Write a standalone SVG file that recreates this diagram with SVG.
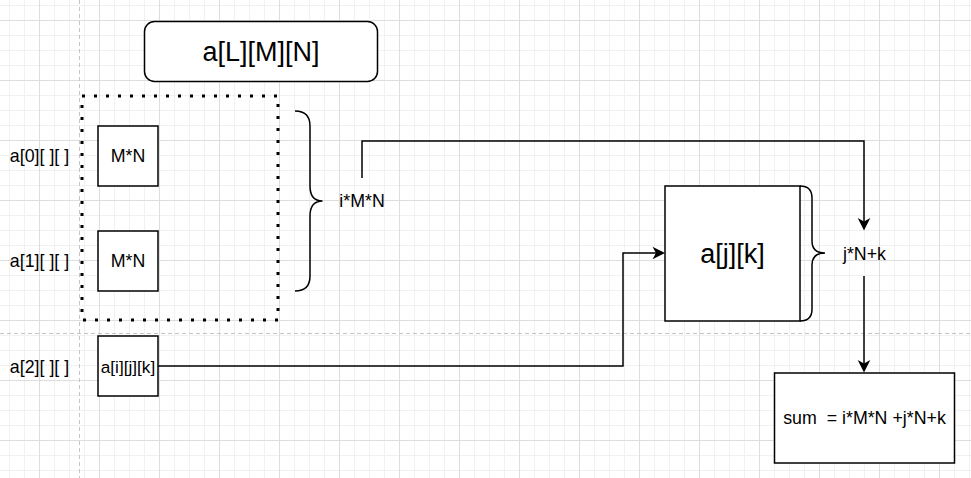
<svg xmlns="http://www.w3.org/2000/svg" width="971" height="478" viewBox="0 0 971 478">
  <style>
    .box { fill: #ffffff; stroke: #000000; stroke-width: 1.5; }
    .line { fill: none; stroke: #000000; stroke-width: 1.5; }
    .t { font-family: "Liberation Sans", Arial, sans-serif; font-size: 17.8px; fill: #000000; }
    .big { font-family: "Liberation Sans", Arial, sans-serif; font-size: 27px; fill: #000000; }
    .mid { text-anchor: middle; }
  </style>
  <defs>
    <pattern id="grid" width="60" height="60" patternUnits="userSpaceOnUse" x="39" y="20">
      <path d="M15.5,0 V60 M30.5,0 V60 M45.5,0 V60 M0,15.5 H60 M0,30.5 H60 M0,45.5 H60" stroke="#f1f1f1" stroke-width="1" fill="none"/>
      <path d="M0.5,0 V60 M0,0.5 H60" stroke="#dddddd" stroke-width="1" fill="none"/>
    </pattern>
    <marker id="arrow" markerUnits="userSpaceOnUse" markerWidth="14" markerHeight="14" viewBox="0 0 14 14" refX="5" refY="7" orient="auto">
      <path d="M0.5,0.7 L13,7 L0.5,13.3 L4,7 Z" fill="#000000"/>
    </marker>
  </defs>

  <rect width="971" height="478" fill="#ffffff"/>
  <rect width="971" height="478" fill="url(#grid)"/>
  <path d="M79.5,0 V478" stroke="#c4c4c4" stroke-width="1" stroke-dasharray="4 3" fill="none"/>
  <path d="M0,333.5 H971" stroke="#c4c4c4" stroke-width="1" stroke-dasharray="4 3" fill="none"/>

  <g id="title">
    <rect class="box" x="144.5" y="21.5" width="233" height="60" rx="10" ry="10"/>
    <text class="big mid" x="261" y="60.5">a[L][M][N]</text>
  </g>

  <g id="group-frame">
    <rect x="82" y="96" width="196" height="224" fill="none" stroke="#000000" stroke-width="3" stroke-dasharray="3 9"/>
  </g>

  <g id="label-a0"><text class="t mid" x="39.5" y="162">a[0][ ][ ]</text></g>
  <g id="label-a1"><text class="t mid" x="39.5" y="267">a[1][ ][ ]</text></g>
  <g id="label-a2"><text class="t mid" x="39.5" y="372.5">a[2][ ][ ]</text></g>

  <g id="block0">
    <rect class="box" x="98" y="126" width="60" height="60"/>
    <text class="t mid" x="128" y="162.2">M*N</text>
  </g>
  <g id="block1">
    <rect class="box" x="98" y="231" width="60" height="60"/>
    <text class="t mid" x="128" y="267">M*N</text>
  </g>
  <g id="element">
    <rect class="box" x="98" y="336" width="60" height="60"/>
    <text class="t mid" x="128" y="372.5" style="font-size:17.2px">a[i][j][k]</text>
  </g>

  <g id="brace-i">
    <path class="line" d="M295,111 Q310,111 310,126 L310,186 Q310,201 322.5,201 Q310,201 310,216 L310,276 Q310,291 295,291"/>
    <text class="t" x="339.3" y="206.7">i*M*N</text>
  </g>

  <g id="plane">
    <rect class="box" x="665" y="186" width="135" height="135"/>
    <text class="big mid" x="732.5" y="263">a[j][k]</text>
  </g>

  <g id="brace-j">
    <path class="line" d="M800,186 Q812,186 812,198 L812,241 Q812,253 825,253 Q812,253 812,265 L812,309 Q812,321 800,321"/>
    <text class="t mid" x="864.5" y="260">j*N+k</text>
  </g>

  <g id="sum">
    <rect class="box" x="774.5" y="373" width="180" height="90"/>
    <text class="t mid" x="864.5" y="424" xml:space="preserve">sum  = i*M*N +j*N+k</text>
  </g>

  <g id="connectors">
    <path class="line" d="M362,178 L362,141 L864,141 L864,222.5" marker-end="url(#arrow)"/>
    <path class="line" d="M864,276 L864,364.5" marker-end="url(#arrow)"/>
    <path class="line" d="M158,366 L623,366 L623,253 L657,253" marker-end="url(#arrow)"/>
  </g>
</svg>
